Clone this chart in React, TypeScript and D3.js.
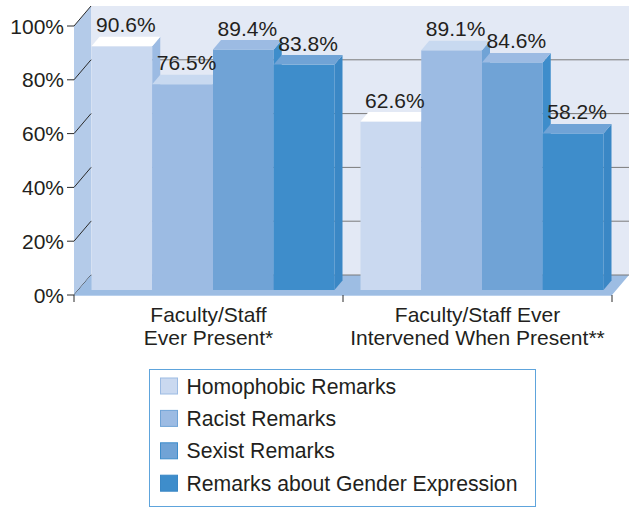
import React from "react";
import * as d3 from "d3";

const groupLabels: string[][] = [
  ["Faculty/Staff", "Ever Present*"],
  ["Faculty/Staff Ever", "Intervened When Present**"],
];
const seriesNames = [
  "Homophobic Remarks",
  "Racist Remarks",
  "Sexist Remarks",
  "Remarks about Gender Expression",
];
const everPresent = [90.6, 76.5, 89.4, 83.8];
const everIntervened = [62.6, 89.1, 84.6, 58.2];
const yTicks = [0, 20, 40, 60, 80, 100];

const frontColors = ["#cad9f0", "#9cbbe3", "#70a3d6", "#3e8dcb"];
const topColors = ["#ffffff", "#c8d9f0", "#9cbbe3", "#70a3d6"];
const sideColors = ["#9cbbe3", "#70a3d6", "#3e8dcb", "#3a87c5"];

const W = 635;
const H = 508;
const FONT = "'Liberation Sans', Arial, Helvetica, sans-serif";
const TXT = "#231f20";
const FS = 21;

export default function App() {
  const values = [everPresent, everIntervened];
  const left = 74;
  const right = 612;
  const y = d3.scaleLinear().domain([0, 100]).range([295, 26]);
  const x0 = d3.scaleBand<number>().domain([0, 1]).range([left, right]);
  const innerW = 243;
  const x1 = d3
    .scaleBand<number>()
    .domain([0, 1, 2, 3])
    .range([0, innerW]);
  // wall depth
  const wdx = 17;
  const wdy = -20;
  // bar placement inside depth
  const bsx = 4.5;
  const bsy = -5;
  // bar depth
  const bdx = 8;
  const bdy = -9.5;

  const backTop = y(100) + wdy;
  const backBottom = y(0) + wdy;

  const pts = (arr: number[][]) => arr.map((p) => p.join(",")).join(" ");

  const bars: React.ReactNode[] = [];
  const labels: React.ReactNode[] = [];
  values.forEach((vals, g) => {
    const gx = (x0(g) as number) + (x0.bandwidth() - innerW) / 2 + bsx;
    vals.forEach((v, i) => {
      const bx = gx + (x1(i) as number);
      const bw = x1.bandwidth();
      const yb = y(0) + bsy;
      const yt = y(v) + bsy;
      bars.push(
        <g key={`b${g}-${i}`}>
          <rect x={bx} y={yt} width={bw} height={yb - yt} fill={frontColors[i]} />
          <polygon
            points={pts([
              [bx + bw, yt],
              [bx + bw + bdx, yt + bdy],
              [bx + bw + bdx, yb + bdy],
              [bx + bw, yb],
            ])}
            fill={sideColors[i]}
          />
          <polygon
            points={pts([
              [bx, yt],
              [bx + bdx, yt + bdy],
              [bx + bw + bdx, yt + bdy],
              [bx + bw, yt],
            ])}
            fill={topColors[i]}
          />
        </g>
      );
      labels.push(
        <text
          key={`l${g}-${i}`}
          x={bx + bw / 2 + 4}
          y={yt - 14}
          textAnchor="middle"
          fontSize={FS}
          fill={TXT}
        >
          {v.toFixed(1) + "%"}
        </text>
      );
    });
  });

  const legendY0 = 386;
  const legendStep = 32.4;

  return (
    <svg
      width={W}
      height={H}
      style={{ position: "absolute", left: 0, top: 0, background: "#fff" }}
      fontFamily={FONT}
    >
      {/* back wall */}
      <rect
        x={left + wdx}
        y={backTop}
        width={right + wdx - (left + wdx)}
        height={backBottom - backTop}
        fill="#e3e9f5"
      />
      {/* left wall */}
      <polygon
        points={pts([
          [left, y(100)],
          [left + wdx, backTop],
          [left + wdx, backBottom],
          [left, y(0)],
        ])}
        fill="#b4cbe9"
      />
      {/* gridlines */}
      {yTicks.map((t) => (
        <g key={`g${t}`}>
          {t > 0 && t < 100 && (
            <line
              x1={left + wdx}
              x2={right + wdx}
              y1={y(t) + wdy}
              y2={y(t) + wdy}
              stroke="#7a7a7a"
              strokeWidth={1}
            />
          )}
          <line
            x1={left}
            y1={y(t)}
            x2={left + wdx}
            y2={y(t) + wdy}
            stroke="#2a2a2a"
            strokeWidth={1}
          />
          <line x1={left - 7} x2={left} y1={y(t)} y2={y(t)} stroke="#2a2a2a" strokeWidth={1} />
          <text
            x={64}
            y={y(t)}
            dy="0.36em"
            textAnchor="end"
            fontSize={FS}
            fill={TXT}
          >
            {t + "%"}
          </text>
        </g>
      ))}
      {/* floor */}
      <polygon
        points={pts([
          [left, y(0)],
          [left + wdx, backBottom],
          [right + wdx, backBottom],
          [right, y(0)],
        ])}
        fill="#9dbde3"
      />
      <line x1={left + wdx} x2={right + wdx} y1={backBottom} y2={backBottom} stroke="#7a7a7a" strokeWidth={1} />
      <line x1={left} x2={right} y1={y(0) + 0.5} y2={y(0) + 0.5} stroke="#b9d0ec" strokeWidth={1} />
      {/* x ticks */}
      {[left, (x0(1) as number), right].map((tx, k) => (
        <line key={`xt${k}`} x1={tx} x2={tx} y1={y(0)} y2={y(0) + 7} stroke="#2a2a2a" strokeWidth={1} />
      ))}
      {bars}
      {labels}
      {/* x labels */}
      {groupLabels.map((lines, g) => (
        <text
          key={`xl${g}`}
          x={(x0(g) as number) + x0.bandwidth() / 2}
          textAnchor="middle"
          fontSize={FS}
          fill={TXT}
        >
          {lines.map((ln, k) => (
            <tspan key={k} x={(x0(g) as number) + x0.bandwidth() / 2} y={322 + k * 23}>
              {ln}
            </tspan>
          ))}
        </text>
      ))}
      {/* legend */}
      <rect x={149.5} y={369.5} width={386} height={137} fill="#fff" stroke="#5ea4dc" strokeWidth={1} />
      {seriesNames.map((s, i) => (
        <g key={`lg${i}`}>
          <rect
            x={160.5}
            y={legendY0 + i * legendStep - 8}
            width={17}
            height={16}
            fill={frontColors[i]}
            stroke={sideColors[i]}
            strokeWidth={1}
          />
          <text
            x={186.5}
            y={legendY0 + i * legendStep}
            dy="0.36em"
            fontSize={21.2}
            fill={TXT}
          >
            {s}
          </text>
        </g>
      ))}
    </svg>
  );
}
